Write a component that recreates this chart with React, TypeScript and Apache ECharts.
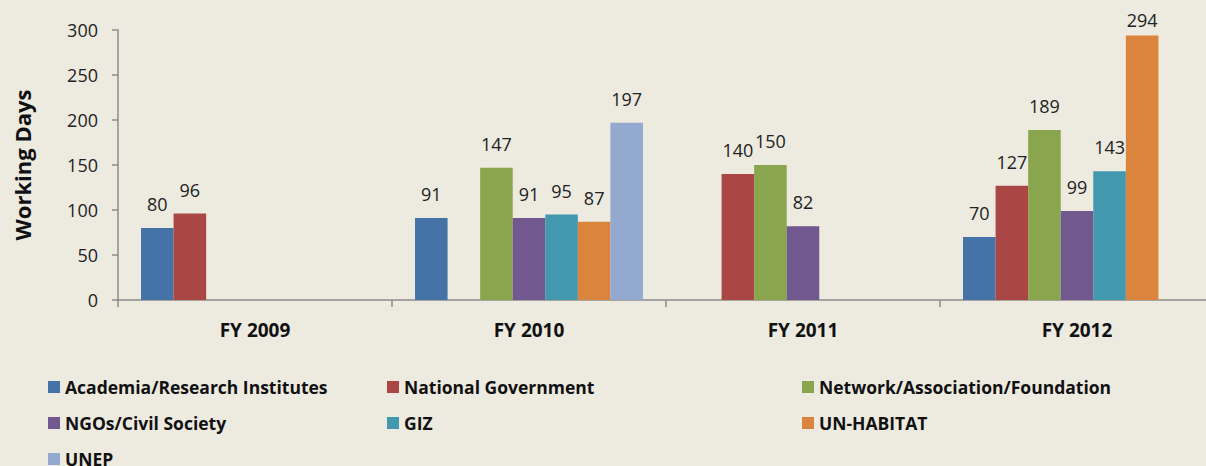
import React, { useEffect, useRef } from "react";
import * as echarts from "echarts";

const categories = ["FY 2009", "FY 2010", "FY 2011", "FY 2012"];
const seriesNames = [
  "Academia/Research Institutes",
  "National Government",
  "Network/Association/Foundation",
  "NGOs/Civil Society",
  "GIZ",
  "UN-HABITAT",
  "UNEP",
];
const academia = [80, 91, null, 70];
const nationalGov = [96, null, 140, 127];
const network = [null, 147, 150, 189];
const ngos = [null, 91, 82, 99];
const giz = [null, 95, null, 143];
const unHabitat = [null, 87, null, 294];
const unep = [null, 197, null, null];
const seriesValues = [academia, nationalGov, network, ngos, giz, unHabitat, unep];
const colors = ["#4572A7", "#AA4643", "#89A54E", "#71588F", "#4198AF", "#DB843D", "#93A9CF"];

const FONT = "'Open Sans', 'Noto Sans', sans-serif";

export default function App() {
  const ref = useRef<HTMLDivElement>(null);
  useEffect(() => {
    const chart = echarts.init(ref.current!, null, { renderer: "svg" });
    const legendBase = {
      orient: "vertical" as const,
      itemWidth: 12,
      itemHeight: 12,
      itemGap: 16,
      icon: "rect",
      padding: 0,
      height: 110,
      textStyle: { fontFamily: FONT, fontSize: 17.5, fontWeight: "bold", color: "#111", lineHeight: 20 },
      top: 377,
    };
    chart.setOption({
      animation: false,
      backgroundColor: "#EDEAE0",
      color: colors,
      grid: { left: 118, right: 0, top: 30, bottom: 166 },
      legend: [
        { ...legendBase, left: 48, data: [seriesNames[0], seriesNames[3], seriesNames[6]] },
        { ...legendBase, left: 387, data: [seriesNames[1], seriesNames[4]] },
        { ...legendBase, left: 802, data: [seriesNames[2], seriesNames[5]] },
      ],
      xAxis: {
        type: "category",
        data: categories,
        axisLine: { lineStyle: { color: "#8C8C8C", width: 1.5 } },
        axisTick: { show: true, length: 7, lineStyle: { color: "#8C8C8C", width: 1.5 } },
        axisLabel: { fontFamily: FONT, fontSize: 19, fontWeight: "bold", color: "#111", margin: 20 },
      },
      yAxis: {
        type: "value",
        min: 0,
        max: 300,
        interval: 50,
        name: "Working Days",
        nameLocation: "middle",
        nameGap: 85,
        nameTextStyle: { fontFamily: FONT, fontSize: 22, fontWeight: "bold", color: "#111" },
        axisLine: { show: true, lineStyle: { color: "#8C8C8C", width: 1.5 } },
        axisTick: { show: true, length: 6, lineStyle: { color: "#8C8C8C", width: 1.5 } },
        splitLine: { show: false },
        axisLabel: { fontFamily: FONT, fontSize: 18, color: "#222", margin: 20 },
      },
      series: seriesNames.map((name, i) => ({
        name,
        type: "bar",
        data: seriesValues[i].map((v) =>
          v != null && v > 280 ? { value: v, label: { distance: 6 } } : v
        ),
        barGap: "0%",
        barCategoryGap: "16.8%",
        itemStyle: { color: colors[i] },
        label: {
          show: true,
          position: "top",
          distance: 15,
          fontFamily: FONT,
          fontSize: 18,
          color: "#222",
        },
      })),
    });
    return () => chart.dispose();
  }, []);
  return (
    <div style={{ position: "absolute", left: 0, top: 0, width: 1206, height: 466, overflow: "hidden" }}>
      <div ref={ref} style={{ position: "absolute", left: 0, top: 0, width: 1214, height: 466 }} />
    </div>
  );
}
